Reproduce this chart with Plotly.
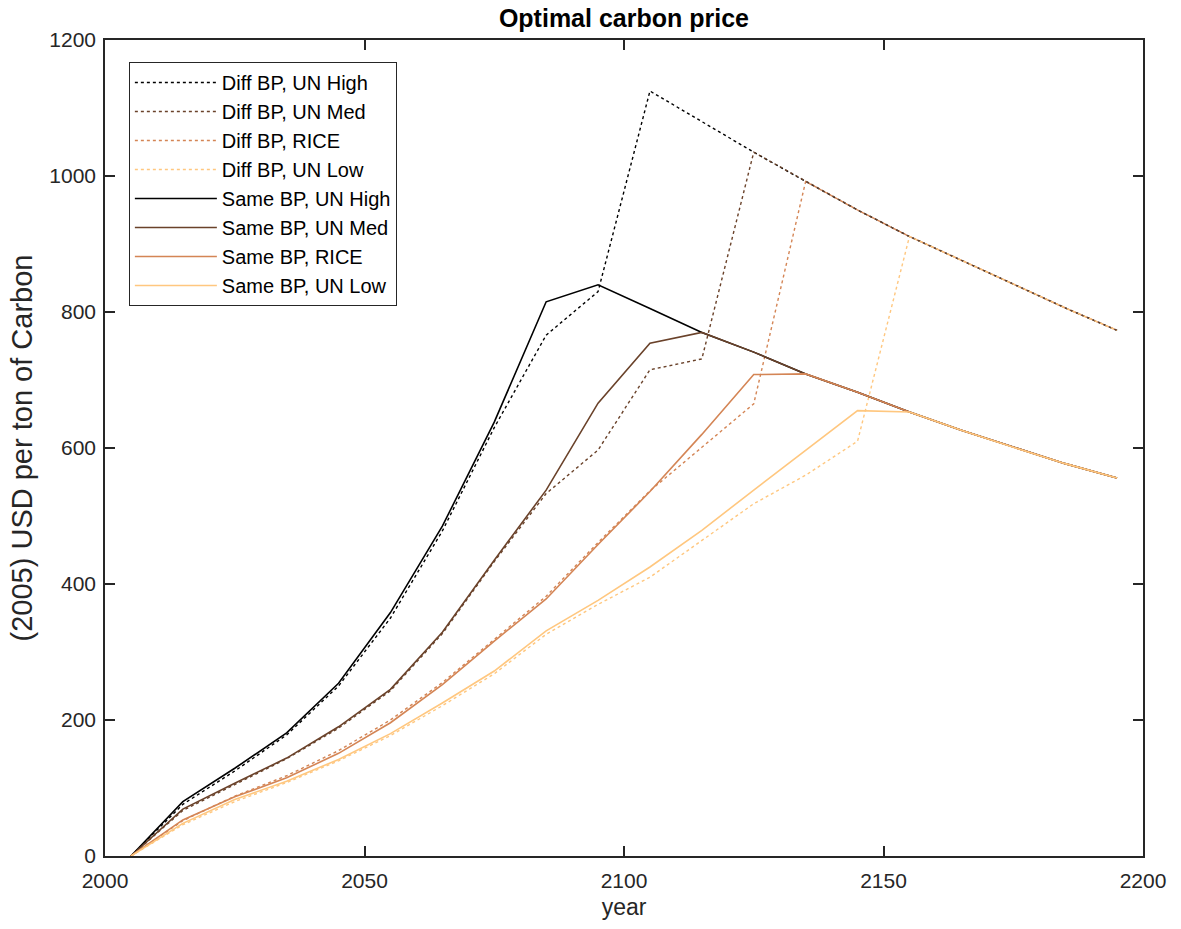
import plotly.graph_objects as go

years = [2005, 2015, 2025, 2035, 2045, 2055, 2065, 2075, 2085, 2095,
         2105, 2115, 2125, 2135, 2145, 2155, 2165, 2175, 2185, 2195]

# Diff BP (dotted) series
diff_un_high = [0, 76, 125, 178, 250, 350, 478, 630, 766, 830,
                1125, 1080, 1035, 992, 950, 911, 876, 842, 806, 773]
diff_un_med = [0, 67, 105, 143, 188, 243, 327, 433, 533, 597,
               715, 731, 1035, 992, 950, 911, 876, 842, 806, 773]
diff_rice = [0, 52, 88, 118, 155, 200, 255, 318, 382, 461,
             537, 601, 665, 992, 950, 911, 876, 842, 806, 773]
diff_un_low = [0, 46, 80, 108, 140, 177, 221, 268, 326, 370,
               410, 464, 518, 560, 610, 911, 876, 842, 806, 773]

# Same BP (solid) series
same_un_high = [0, 80, 129, 181, 254, 358, 485, 638, 815, 840,
                805, 770, 741, 709, 682, 653, 626, 601, 577, 556]
same_un_med = [0, 69, 107, 144, 190, 245, 329, 435, 538, 666,
               754, 770, 741, 709, 682, 653, 626, 601, 577, 556]
same_rice = [0, 53, 87, 115, 151, 196, 252, 316, 378, 458,
             536, 620, 708, 709, 682, 653, 626, 601, 577, 556]
same_un_low = [0, 48, 83, 110, 142, 180, 225, 272, 331, 376,
               425, 479, 538, 597, 655, 653, 626, 601, 577, 556]

series_names = ["Diff BP, UN High", "Diff BP, UN Med", "Diff BP, RICE", "Diff BP, UN Low",
                "Same BP, UN High", "Same BP, UN Med", "Same BP, RICE", "Same BP, UN Low"]
series_values = [diff_un_high, diff_un_med, diff_rice, diff_un_low,
                 same_un_high, same_un_med, same_rice, same_un_low]
colors = ["#000000", "#6a422a", "#d48555", "#ffc77f"] * 2
dashes = ["dot"] * 4 + ["solid"] * 4

x_ticks = [2000, 2050, 2100, 2150, 2200]
y_ticks = [0, 200, 400, 600, 800, 1000, 1200]

FONT = "Liberation Sans, Arial, Helvetica, sans-serif"
AX = "#262626"

fig = go.Figure()
for name, vals, col, dash in zip(series_names, series_values, colors, dashes):
    fig.add_trace(go.Scatter(
        x=years, y=vals, name=name, mode="lines",
        line=dict(color=col, width=1.6 if dash == "solid" else 1.4, dash=dash),
    ))

axis_common = dict(
    showline=True, mirror="ticks", linecolor=AX, linewidth=1.5,
    ticks="inside", ticklen=10, tickwidth=1.5, tickcolor=AX,
    showgrid=False, zeroline=False,
    tickfont=dict(family=FONT, size=21, color=AX),
)

fig.update_layout(
    width=1181, height=929,
    margin=dict(l=105, r=38, t=40, b=73),
    paper_bgcolor="white", plot_bgcolor="white",
    title=dict(text="<b>Optimal carbon price</b>", x=0.5283, xanchor="center",
               y=0.980, yanchor="middle",
               font=dict(family=FONT, size=25, color="#000000")),
    xaxis=dict(range=[2000, 2200], tickvals=x_ticks, ticklabelstandoff=5,
               title=dict(text="year", font=dict(family=FONT, size=23, color=AX), standoff=8),
               **axis_common),
    yaxis=dict(range=[0, 1200], tickvals=y_ticks, ticklabelstandoff=3,
               title=dict(text="(2005) USD per ton of Carbon",
                          font=dict(family=FONT, size=29, color=AX), standoff=8),
               **axis_common),
    legend=dict(x=0.023, y=0.973, xanchor="left", yanchor="top",
                bgcolor="white", bordercolor=AX, borderwidth=1,
                font=dict(family=FONT, size=20, color="#000000"),
                itemwidth=82, tracegroupgap=0),
    showlegend=True,
)

fig.write_html("out.html")
